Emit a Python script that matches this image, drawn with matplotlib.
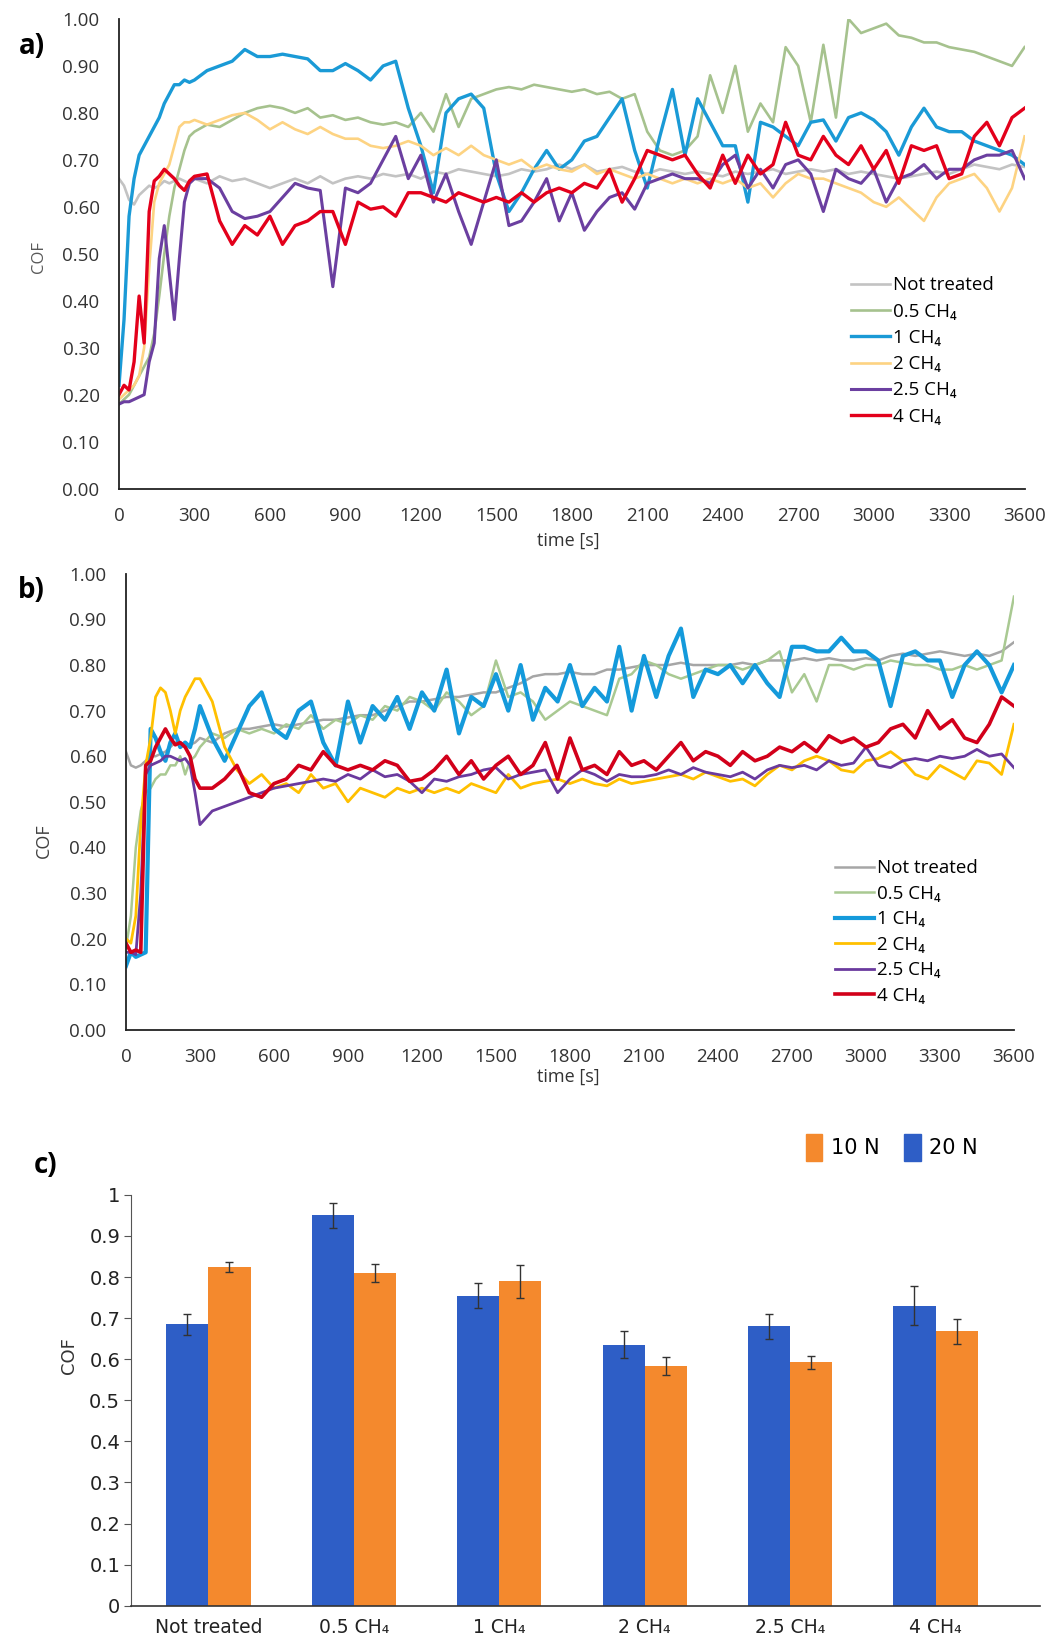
import numpy as np
import matplotlib
matplotlib.use("Agg")
import matplotlib.pyplot as plt
from matplotlib.patches import Patch
from matplotlib.ticker import FormatStrFormatter

plt.rcParams['font.family'] = ['Open Sans', 'DejaVu Sans']

time_s = list(range(0, 300, 20)) + list(range(300, 3650, 50))
series_labels = ["Not treated", "0.5 CH₄", "1 CH₄", "2 CH₄", "2.5 CH₄", "4 CH₄"]

# ---- panel a ----
a_not_treated = [0.66, 0.645, 0.615, 0.605, 0.625, 0.635, 0.645, 0.64, 0.645, 0.655, 0.65, 0.655, 0.66, 0.655, 0.65,
                 0.66, 0.65, 0.665, 0.655, 0.66, 0.65, 0.64, 0.65, 0.66, 0.65,
                 0.665, 0.65, 0.66, 0.665, 0.66, 0.67, 0.665, 0.67, 0.66, 0.675,
                 0.67, 0.68, 0.675, 0.67, 0.665, 0.67, 0.68, 0.675, 0.68, 0.69,
                 0.68, 0.69, 0.675, 0.68, 0.685, 0.675, 0.67, 0.68, 0.675, 0.67,
                 0.675, 0.67, 0.665, 0.675, 0.67, 0.675, 0.68, 0.67, 0.675, 0.68,
                 0.675, 0.68, 0.67, 0.675, 0.67, 0.665, 0.66, 0.665, 0.67, 0.675,
                 0.67, 0.68, 0.69, 0.685, 0.68, 0.69, 0.685]
a_ch4_05 = [0.18, 0.19, 0.20, 0.22, 0.24, 0.26, 0.28, 0.33, 0.41, 0.50, 0.58, 0.64, 0.68, 0.72, 0.75,
            0.76, 0.775, 0.77, 0.785, 0.80, 0.81, 0.815, 0.81, 0.80, 0.81,
            0.79, 0.795, 0.785, 0.79, 0.78, 0.775, 0.78, 0.77, 0.80, 0.76,
            0.84, 0.77, 0.83, 0.84, 0.85, 0.855, 0.85, 0.86, 0.855, 0.85,
            0.845, 0.85, 0.84, 0.845, 0.83, 0.84, 0.76, 0.72, 0.71, 0.72,
            0.75, 0.88, 0.80, 0.90, 0.76, 0.82, 0.78, 0.94, 0.90, 0.78,
            0.945, 0.79, 1.00, 0.97, 0.98, 0.99, 0.965, 0.96, 0.95, 0.95,
            0.94, 0.935, 0.93, 0.92, 0.91, 0.90, 0.94]
a_ch4_1 = [0.22, 0.36, 0.58, 0.66, 0.71, 0.73, 0.75, 0.77, 0.79, 0.82, 0.84, 0.86, 0.86, 0.87, 0.865,
           0.87, 0.89, 0.90, 0.91, 0.935, 0.92, 0.92, 0.925, 0.92, 0.915,
           0.89, 0.89, 0.905, 0.89, 0.87, 0.90, 0.91, 0.81, 0.73, 0.63,
           0.80, 0.83, 0.84, 0.81, 0.67, 0.59, 0.63, 0.68, 0.72, 0.68,
           0.70, 0.74, 0.75, 0.79, 0.83, 0.72, 0.64, 0.75, 0.85, 0.71,
           0.83, 0.78, 0.73, 0.73, 0.61, 0.78, 0.77, 0.75, 0.73, 0.78,
           0.785, 0.74, 0.79, 0.80, 0.785, 0.76, 0.71, 0.77, 0.81, 0.77,
           0.76, 0.76, 0.74, 0.73, 0.72, 0.71, 0.69]
a_ch4_2 = [0.19, 0.20, 0.21, 0.22, 0.24, 0.30, 0.47, 0.61, 0.65, 0.67, 0.69, 0.73, 0.77, 0.78, 0.78,
           0.785, 0.775, 0.785, 0.795, 0.80, 0.785, 0.765, 0.78, 0.765, 0.755,
           0.77, 0.755, 0.745, 0.745, 0.73, 0.725, 0.73, 0.74, 0.73, 0.71,
           0.725, 0.71, 0.73, 0.71, 0.70, 0.69, 0.70, 0.68, 0.69, 0.68,
           0.675, 0.69, 0.67, 0.68, 0.67, 0.66, 0.67, 0.66, 0.65, 0.66,
           0.65, 0.66, 0.65, 0.66, 0.64, 0.65, 0.62, 0.65, 0.67, 0.66,
           0.66, 0.65, 0.64, 0.63, 0.61, 0.60, 0.62, 0.595, 0.57, 0.62,
           0.65, 0.66, 0.67, 0.64, 0.59, 0.64, 0.75]
a_ch4_25 = [0.18, 0.185, 0.185, 0.19, 0.195, 0.20, 0.27, 0.31, 0.49, 0.56, 0.46, 0.36, 0.49, 0.61, 0.65,
            0.66, 0.66, 0.64, 0.59, 0.575, 0.58, 0.59, 0.62, 0.65, 0.64,
            0.635, 0.43, 0.64, 0.63, 0.65, 0.70, 0.75, 0.66, 0.71, 0.61,
            0.67, 0.59, 0.52, 0.61, 0.70, 0.56, 0.57, 0.61, 0.66, 0.57,
            0.63, 0.55, 0.59, 0.62, 0.63, 0.595, 0.65, 0.66, 0.67, 0.66,
            0.66, 0.65, 0.69, 0.71, 0.64, 0.68, 0.64, 0.69, 0.70, 0.67,
            0.59, 0.68, 0.66, 0.65, 0.68, 0.61, 0.66, 0.67, 0.69, 0.66,
            0.68, 0.68, 0.70, 0.71, 0.71, 0.72, 0.66]
a_ch4_4 = [0.20, 0.22, 0.21, 0.27, 0.41, 0.31, 0.59, 0.655, 0.665, 0.68, 0.67, 0.66, 0.645, 0.635, 0.655,
           0.665, 0.67, 0.57, 0.52, 0.56, 0.54, 0.58, 0.52, 0.56, 0.57,
           0.59, 0.59, 0.52, 0.61, 0.595, 0.60, 0.58, 0.63, 0.63, 0.62,
           0.61, 0.63, 0.62, 0.61, 0.62, 0.61, 0.63, 0.61, 0.63, 0.64,
           0.63, 0.65, 0.64, 0.68, 0.61, 0.66, 0.72, 0.71, 0.70, 0.71,
           0.67, 0.64, 0.71, 0.65, 0.71, 0.67, 0.69, 0.78, 0.71, 0.70,
           0.75, 0.71, 0.69, 0.73, 0.68, 0.72, 0.65, 0.73, 0.72, 0.73,
           0.66, 0.67, 0.75, 0.78, 0.73, 0.79, 0.81]

# ---- panel b ----
b_not_treated = [0.61, 0.58, 0.575, 0.58, 0.59, 0.60, 0.60, 0.605, 0.61, 0.62, 0.63, 0.63, 0.62, 0.625, 0.63,
                 0.64, 0.63, 0.65, 0.66, 0.66, 0.665, 0.67, 0.665, 0.67, 0.675,
                 0.68, 0.68, 0.685, 0.69, 0.69, 0.70, 0.71, 0.72, 0.72, 0.725,
                 0.73, 0.73, 0.735, 0.74, 0.74, 0.75, 0.76, 0.775, 0.78, 0.78,
                 0.785, 0.78, 0.78, 0.79, 0.79, 0.795, 0.80, 0.80, 0.80, 0.805,
                 0.80, 0.80, 0.80, 0.80, 0.805, 0.80, 0.81, 0.81, 0.81, 0.815,
                 0.81, 0.815, 0.81, 0.81, 0.815, 0.81, 0.82, 0.825, 0.82, 0.825,
                 0.83, 0.825, 0.82, 0.825, 0.82, 0.83, 0.85]
b_ch4_05 = [0.18, 0.25, 0.40, 0.48, 0.52, 0.53, 0.55, 0.56, 0.56, 0.58, 0.58, 0.60, 0.56, 0.59, 0.60,
            0.62, 0.65, 0.64, 0.66, 0.65, 0.66, 0.65, 0.67, 0.66, 0.69,
            0.66, 0.68, 0.67, 0.69, 0.68, 0.71, 0.70, 0.73, 0.72, 0.70,
            0.74, 0.72, 0.69, 0.71, 0.81, 0.73, 0.74, 0.72, 0.68, 0.70,
            0.72, 0.71, 0.70, 0.69, 0.77, 0.78, 0.81, 0.80, 0.78, 0.77,
            0.78, 0.79, 0.80, 0.80, 0.79, 0.80, 0.81, 0.83, 0.74, 0.78,
            0.72, 0.80, 0.80, 0.79, 0.80, 0.80, 0.81, 0.805, 0.80, 0.80,
            0.79, 0.79, 0.80, 0.79, 0.80, 0.81, 0.95]
b_ch4_1 = [0.14, 0.17, 0.16, 0.165, 0.17, 0.66, 0.64, 0.61, 0.59, 0.63, 0.65, 0.62, 0.63, 0.62, 0.66,
           0.71, 0.64, 0.59, 0.65, 0.71, 0.74, 0.66, 0.64, 0.70, 0.72,
           0.63, 0.58, 0.72, 0.63, 0.71, 0.68, 0.73, 0.66, 0.74, 0.70,
           0.79, 0.65, 0.73, 0.71, 0.78, 0.70, 0.80, 0.68, 0.75, 0.72,
           0.80, 0.71, 0.75, 0.72, 0.84, 0.70, 0.82, 0.73, 0.82, 0.88,
           0.73, 0.79, 0.78, 0.80, 0.76, 0.80, 0.76, 0.73, 0.84, 0.84,
           0.83, 0.83, 0.86, 0.83, 0.83, 0.81, 0.71, 0.82, 0.83, 0.81,
           0.81, 0.73, 0.80, 0.83, 0.80, 0.74, 0.80]
b_ch4_2 = [0.20, 0.19, 0.25, 0.45, 0.58, 0.64, 0.73, 0.75, 0.74, 0.70, 0.65, 0.70, 0.73, 0.75, 0.77,
           0.77, 0.72, 0.62, 0.57, 0.54, 0.56, 0.53, 0.54, 0.52, 0.56,
           0.53, 0.54, 0.50, 0.53, 0.52, 0.51, 0.53, 0.52, 0.53, 0.52,
           0.53, 0.52, 0.54, 0.53, 0.52, 0.56, 0.53, 0.54, 0.545, 0.55,
           0.54, 0.55, 0.54, 0.535, 0.55, 0.54, 0.545, 0.55, 0.555, 0.56,
           0.55, 0.565, 0.555, 0.545, 0.55, 0.535, 0.56, 0.58, 0.57, 0.59,
           0.60, 0.59, 0.57, 0.565, 0.59, 0.595, 0.61, 0.59, 0.56, 0.55,
           0.58, 0.565, 0.55, 0.59, 0.585, 0.56, 0.67]
b_ch4_25 = [0.17, 0.17, 0.165, 0.30, 0.56, 0.58, 0.585, 0.59, 0.60, 0.60, 0.595, 0.59, 0.595, 0.58, 0.52,
            0.45, 0.48, 0.49, 0.50, 0.51, 0.52, 0.53, 0.535, 0.54, 0.545,
            0.55, 0.545, 0.56, 0.55, 0.57, 0.555, 0.56, 0.545, 0.52, 0.55,
            0.545, 0.555, 0.56, 0.57, 0.575, 0.55, 0.56, 0.565, 0.57, 0.52,
            0.55, 0.57, 0.56, 0.545, 0.56, 0.555, 0.555, 0.56, 0.57, 0.56,
            0.575, 0.565, 0.56, 0.555, 0.565, 0.55, 0.57, 0.58, 0.575, 0.58,
            0.57, 0.59, 0.58, 0.585, 0.62, 0.58, 0.575, 0.59, 0.595, 0.59,
            0.60, 0.595, 0.60, 0.615, 0.60, 0.605, 0.575]
b_ch4_4 = [0.19, 0.17, 0.175, 0.17, 0.58, 0.59, 0.62, 0.64, 0.66, 0.64, 0.625, 0.63, 0.62, 0.60, 0.55,
           0.53, 0.53, 0.55, 0.58, 0.52, 0.51, 0.54, 0.55, 0.58, 0.57,
           0.61, 0.58, 0.57, 0.58, 0.57, 0.59, 0.58, 0.545, 0.55, 0.57,
           0.60, 0.56, 0.59, 0.55, 0.58, 0.60, 0.56, 0.58, 0.63, 0.55,
           0.64, 0.57, 0.58, 0.56, 0.61, 0.58, 0.59, 0.57, 0.60, 0.63,
           0.59, 0.61, 0.60, 0.58, 0.61, 0.59, 0.60, 0.62, 0.61, 0.63,
           0.61, 0.645, 0.63, 0.64, 0.62, 0.63, 0.66, 0.67, 0.64, 0.70,
           0.66, 0.68, 0.64, 0.63, 0.67, 0.73, 0.71]

# ---- panel c ----
bar_categories = ["Not treated", "0.5 CH₄", "1 CH₄", "2 CH₄", "2.5 CH₄", "4 CH₄"]
cof_20N = [0.685, 0.950, 0.755, 0.635, 0.680, 0.730]
err_20N = [0.025, 0.030, 0.030, 0.033, 0.030, 0.048]
cof_10N = [0.825, 0.810, 0.790, 0.583, 0.592, 0.668]
err_10N = [0.012, 0.022, 0.040, 0.022, 0.015, 0.030]

colors_a = ['#C3C3C3', '#A6C28E', '#1A9AD6', '#FDD382', '#6B3FA0', '#E3001B']
widths_a = [1.9, 1.9, 2.4, 1.9, 2.2, 2.4]
colors_b = ['#A6A6A6', '#A9C992', '#149ADB', '#FFC000', '#6A3A9E', '#D2001A']
widths_b = [1.8, 1.8, 3.0, 2.0, 2.0, 2.6]

narrow = ['Liberation Sans Narrow', 'DejaVu Sans']


def plot_cof_panel(ax, curves, colors, widths, legend_xy, spacing):
    for y, label, c, lw in zip(curves, series_labels, colors, widths):
        ax.plot(time_s, y, color=c, lw=lw, label=label, solid_joinstyle='round')
    ax.set_xlim(0, 3600)
    ax.set_ylim(0, 1)
    ax.set_xticks(range(0, 3601, 300))
    ax.set_yticks(np.arange(0, 1.01, 0.1))
    ax.yaxis.set_major_formatter(FormatStrFormatter('%.2f'))
    for s in ['top', 'right']:
        ax.spines[s].set_visible(False)
    for s in ['left', 'bottom']:
        ax.spines[s].set_linewidth(1.3)
        ax.spines[s].set_color('#222222')
    ax.tick_params(axis='x', length=0, labelsize=13.5, labelcolor='#333333', pad=13)
    ax.tick_params(axis='y', length=0, labelsize=13.5, labelcolor='#333333', pad=14)
    ax.legend(loc='upper left', bbox_to_anchor=legend_xy, frameon=False, fontsize=13.5,
              borderpad=0, handlelength=2.1, handletextpad=0.15, labelspacing=spacing,
              borderaxespad=0)


fig = plt.figure(figsize=(10.54, 16.48), dpi=100)

ax_a = fig.add_axes([0.1129, 0.7035, 0.8592, 0.2850])
plot_cof_panel(ax_a, [a_not_treated, a_ch4_05, a_ch4_1, a_ch4_2, a_ch4_25, a_ch4_4],
               colors_a, widths_a, (0.808, 0.452), 0.44)

ax_b = fig.add_axes([0.1195, 0.3751, 0.8425, 0.2767])
plot_cof_panel(ax_b, [b_not_treated, b_ch4_05, b_ch4_1, b_ch4_2, b_ch4_25, b_ch4_4],
               colors_b, widths_b, (0.798, 0.374), 0.40)

ax_c = fig.add_axes([0.1246, 0.02567, 0.8624, 0.2493])
x = np.arange(len(bar_categories))
w = 0.29
ekw = dict(elinewidth=1.0, ecolor='#333333', capthick=1.0)
ax_c.bar(x - w / 2, cof_20N, w, color='#2E5EC6', yerr=err_20N, capsize=3, error_kw=ekw)
ax_c.bar(x + w / 2, cof_10N, w, color='#F4892D', yerr=err_10N, capsize=3, error_kw=ekw)
ax_c.set_xlim(-0.53, 5.72)
ax_c.set_ylim(0, 1)
ax_c.set_yticks(np.arange(0, 1.01, 0.1))
ax_c.set_yticklabels(['0', '0.1', '0.2', '0.3', '0.4', '0.5', '0.6', '0.7', '0.8', '0.9', '1'])
ax_c.set_xticks(x)
ax_c.set_xticklabels(bar_categories, family=narrow)
for lab in ax_c.get_yticklabels():
    lab.set_family(narrow)
for s in ['top', 'right']:
    ax_c.spines[s].set_visible(False)
ax_c.spines['left'].set_color('#555555')
ax_c.spines['bottom'].set_color('#333333')
ax_c.spines['bottom'].set_linewidth(1.2)
ax_c.tick_params(axis='x', length=0, labelsize=13.5, labelcolor='#222222', pad=9)
ax_c.tick_params(axis='y', length=5, direction='out', color='#555555', labelsize=14,
                 labelcolor='#222222', pad=3)

handles = [Patch(color='#F4892D', label='10 N'), Patch(color='#2E5EC6', label='20 N')]
fig.legend(handles=handles, loc='center', bbox_to_anchor=(0.846, 0.3037), ncol=2,
           frameon=False, handlelength=0.8, handleheight=1.6,
           handletextpad=0.4, columnspacing=1.2,
           prop={'family': narrow, 'size': 15})

# panel letters and axis titles
fig.text(0.030, 0.9715, 'a)', fontsize=20, fontweight='bold', ha='center', va='center')
fig.text(0.030, 0.6416, 'b)', fontsize=20, fontweight='bold', ha='center', va='center')
fig.text(0.043, 0.2925, 'c)', fontsize=20, fontweight='bold', ha='center', va='center')
fig.text(568 / 1054, 1 - 541 / 1648, 'time [s]', fontsize=13, color='#333333', ha='center', va='center')
fig.text(568 / 1054, 1 - 1077 / 1648, 'time [s]', fontsize=13, color='#333333', ha='center', va='center')
fig.text(39 / 1054, 1 - 257 / 1648, 'COF', fontsize=12, color='#595959', rotation=90, ha='center', va='center')
fig.text(44 / 1054, 1 - 841 / 1648, 'COF', fontsize=13, color='#404040', rotation=90, ha='center', va='center')
fig.text(69 / 1054, 1 - 1356 / 1648, 'COF', fontsize=13, color='#333333', rotation=90, ha='center', va='center',
         family=narrow)

fig.savefig('out.png', dpi=100)
